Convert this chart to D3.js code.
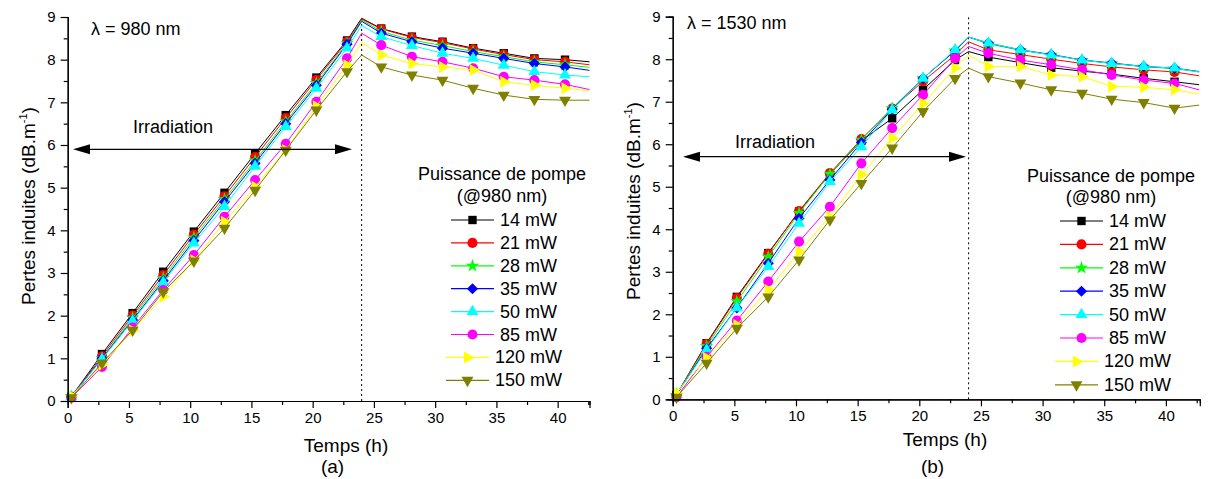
<!DOCTYPE html>
<html><head><meta charset="utf-8">
<script src="https://cdn.jsdelivr.net/npm/d3@7"></script>
<style>
body{margin:0;background:#fff;}
svg{display:block;font-family:"Liberation Sans",Arial,sans-serif;}
</style></head>
<body><svg id="c" width="1211" height="479"></svg>
<script>
// ---------- data ----------
const seriesNames = ["14 mW","21 mW","28 mW","35 mW","50 mW","85 mW","120 mW","150 mW"];
const seriesColors = ["#000000","#ff0000","#00ff00","#0000ff","#00ffff","#ff00ff","#ffff00","#808000"];
const seriesMarkers = ["square","circle","star","diamond","triUp","circle","triRight","triDown"];
const xTicks = [0,5,10,15,20,25,30,35,40];
const yTicks = [0,1,2,3,4,5,6,7,8,9];
const legendTitle = ["Puissance de pompe","(@980 nm)"];

// panel (a) : lambda = 980 nm
const timesA = [0.3,2.8,5.3,7.8,10.3,12.8,15.3,17.8,20.3,22.8,24.0,25.6,28.1,30.6,33.1,35.6,38.1,40.6,42.6];
const a14  = [0.10,1.10,2.06,3.03,3.97,4.88,5.80,6.70,7.58,8.45,8.97,8.73,8.54,8.42,8.27,8.15,8.03,8.00,7.95];
const a21  = [0.10,1.05,2.00,2.95,3.90,4.80,5.72,6.63,7.53,8.42,8.95,8.72,8.52,8.40,8.25,8.12,8.00,7.95,7.88];
const a28  = [0.10,1.00,1.95,2.88,3.83,4.73,5.63,6.55,7.45,8.38,8.93,8.66,8.46,8.33,8.19,8.07,7.95,7.88,7.82];
const a35  = [0.10,1.00,1.90,2.82,3.76,4.67,5.57,6.50,7.40,8.36,8.90,8.62,8.42,8.27,8.15,8.03,7.91,7.83,7.75];
const a50  = [0.10,0.98,1.88,2.78,3.70,4.56,5.50,6.43,7.33,8.27,8.80,8.54,8.33,8.15,8.03,7.87,7.72,7.64,7.60];
const a85  = [0.08,0.80,1.72,2.60,3.42,4.32,5.18,6.03,7.01,8.03,8.62,8.34,8.07,7.95,7.80,7.60,7.52,7.42,7.30];
const a120 = [0.12,0.85,1.65,2.45,3.30,4.20,5.02,5.88,6.91,7.87,8.40,8.11,7.91,7.83,7.76,7.48,7.40,7.33,7.27];
const a150 = [0.08,0.89,1.66,2.56,3.28,4.05,4.94,5.88,6.82,7.72,8.11,7.83,7.64,7.52,7.33,7.17,7.07,7.05,7.05];

// panel (b) : lambda = 1530 nm
const timesB = [0.3,2.75,5.2,7.75,10.25,12.75,15.3,17.8,20.3,22.9,24.0,25.6,28.2,30.7,33.2,35.6,38.2,40.7,42.7];
const b14  = [0.10,1.32,2.41,3.44,4.42,5.30,6.08,6.61,7.28,7.98,8.18,8.05,7.92,7.80,7.72,7.65,7.55,7.47,7.40];
const b21  = [0.10,1.30,2.38,3.42,4.43,5.32,6.12,6.84,7.48,8.10,8.41,8.22,8.11,8.00,7.90,7.82,7.75,7.70,7.61];
const b28  = [0.10,1.25,2.30,3.35,4.38,5.30,6.10,6.85,7.55,8.20,8.52,8.36,8.21,8.10,7.98,7.90,7.82,7.78,7.70];
const b35  = [0.10,1.20,2.15,3.20,4.26,5.16,6.04,6.82,7.55,8.20,8.52,8.38,8.22,8.11,7.98,7.91,7.83,7.79,7.71];
const b50  = [0.12,1.16,2.15,3.12,4.14,5.12,5.94,6.81,7.55,8.22,8.52,8.38,8.22,8.10,7.98,7.90,7.83,7.79,7.70];
const b85  = [0.05,1.00,1.85,2.77,3.71,4.53,5.55,6.38,7.16,8.02,8.30,8.14,7.98,7.87,7.75,7.63,7.51,7.43,7.28];
const b120 = [0.15,0.97,1.75,2.57,3.47,4.30,5.28,6.14,6.96,7.79,8.10,7.83,7.83,7.63,7.59,7.36,7.34,7.28,7.18];
const b150 = [0.05,0.85,1.67,2.41,3.28,4.22,5.08,5.91,6.77,7.55,7.79,7.59,7.44,7.28,7.20,7.06,6.98,6.85,6.92];

// points without a marker (irradiation end and last sample)
const noMarkerIdx = [10,18];

// ---------- drawing ----------
const svg = d3.select("#c");

const shapeGen = {
  square:  {t:d3.symbolSquare, s:70, r:0},
  circle:  {t:d3.symbolCircle, s:80, r:0},
  star:    {t:d3.symbolStar, s:55, r:0},
  diamond: {t:d3.symbolSquare, s:62, r:45},
  triUp:   {t:d3.symbolTriangle, s:62, r:0},
  triRight:{t:d3.symbolTriangle, s:62, r:90},
  triDown: {t:d3.symbolTriangle, s:62, r:180}
};
function marker(g, kind, color, x, y){
  const m = shapeGen[kind];
  g.append("path").attr("d", d3.symbol().type(m.t).size(m.s)())
   .attr("transform", `translate(${x},${y}) rotate(${m.r})`)
   .attr("fill", color).attr("stroke","none");
}

function panel(cfg){
  const x = d3.scaleLinear().domain([0,cfg.xmax]).range([cfg.x0,cfg.x1]);
  const y = d3.scaleLinear().domain([0,9]).range([cfg.y0,cfg.y1]);
  const g = svg.append("g");

  // dotted line at end of irradiation
  g.append("line").attr("x1",x(24)).attr("x2",x(24)).attr("y1",y(0)).attr("y2",y(9))
   .attr("stroke","#000").attr("stroke-width",1).attr("stroke-dasharray","2,3");

  // series
  cfg.series.forEach((vals,i)=>{
    const pts = cfg.times.map((t,k)=>[t,vals[k]]);
    g.append("path").datum(pts)
     .attr("d", d3.line().x(d=>x(d[0])).y(d=>y(d[1])))
     .attr("fill","none").attr("stroke",seriesColors[i]).attr("stroke-width",1);
    pts.forEach((p,k)=>{
      if(noMarkerIdx.includes(k)) return;
      marker(g, seriesMarkers[i], seriesColors[i], x(p[0]), y(p[1]));
    });
  });

  // axes
  const xAx = d3.axisBottom(x).tickValues(xTicks).tickSize(7).tickPadding(4).tickFormat(d3.format("d"));
  const xMinor = d3.axisBottom(x).tickValues(d3.range(2.5,cfg.xmax,5)).tickSize(4).tickFormat("");
  const yAx = d3.axisLeft(y).tickValues(yTicks).tickSize(7).tickPadding(5).tickFormat(d3.format("d"));
  const yMinor = d3.axisLeft(y).tickValues(d3.range(0.5,9,1)).tickSize(4).tickFormat("");
  [[xAx,`translate(0,${cfg.y0})`],[xMinor,`translate(0,${cfg.y0})`],[yAx,`translate(${cfg.x0},0)`],[yMinor,`translate(${cfg.x0},0)`]]
  .forEach(([ax,tr])=>{
    const a = g.append("g").attr("transform",tr).call(ax);
    a.select(".domain").attr("stroke","#000").attr("stroke-width",1.2);
    a.selectAll(".tick line").attr("stroke","#000").attr("stroke-width",1.2);
    a.selectAll("text").attr("font-size",15).attr("fill","#000").style("font-family","Liberation Sans, Arial, sans-serif");
  });

  // axis titles
  g.append("text").attr("x",cfg.xtX).attr("y",cfg.xtY).attr("text-anchor","middle")
   .attr("font-size",19).text("Temps (h)");
  g.append("text").attr("x",cfg.subX).attr("y",473).attr("text-anchor","middle")
   .attr("font-size",19).text(cfg.sub);
  const yt = g.append("text").attr("transform",`translate(${cfg.ytX},${cfg.ytY}) rotate(-90)`)
   .attr("text-anchor","middle").attr("font-size",19);
  yt.append("tspan").text("Pertes induites (dB.m");
  yt.append("tspan").attr("font-size",11).attr("dy",-8).text("-1");
  yt.append("tspan").attr("dy",8).text(")");

  // lambda label
  g.append("text").attr("x",cfg.lamX).attr("y",cfg.lamY).attr("font-size",18).text(cfg.lam);

  // irradiation arrow
  g.append("text").attr("x",cfg.irX).attr("y",cfg.irY).attr("text-anchor","middle")
   .attr("font-size",18).text("Irradiation");
  const ay = cfg.arY, ax0 = cfg.arX0, ax1 = cfg.arX1;
  g.append("line").attr("x1",ax0+10).attr("x2",ax1-10).attr("y1",ay).attr("y2",ay)
   .attr("stroke","#000").attr("stroke-width",1.2);
  g.append("path").attr("d",`M${ax0},${ay} L${ax0+17},${ay-5} L${ax0+17},${ay+5} Z`).attr("fill","#000");
  g.append("path").attr("d",`M${ax1},${ay} L${ax1-17},${ay-5} L${ax1-17},${ay+5} Z`).attr("fill","#000");

  // legend
  const lg = g.append("g");
  legendTitle.forEach((t,i)=>{
    lg.append("text").attr("x",cfg.lgC).attr("y",cfg.lgT[i]).attr("text-anchor","middle")
      .attr("font-size",18).text(t);
  });
  seriesNames.forEach((n,i)=>{
    const cy = cfg.lgY0 + i*cfg.lgDy;
    const tx = lg.append("text").attr("y",cy+6).attr("font-size",18).text(n);
    const tw = tx.node().getComputedTextLength();
    const total = 43 + 6 + tw;
    const sx = cfg.lgC - total/2 + 2;
    tx.attr("x", sx+49);
    lg.append("line").attr("x1",sx).attr("x2",sx+43).attr("y1",cy).attr("y2",cy)
      .attr("stroke",seriesColors[i]).attr("stroke-width",1.2);
    marker(lg, seriesMarkers[i], seriesColors[i], sx+21.5, cy);
  });
}

panel({xmax:42.6, x0:67.7, x1:589.5, y0:401, y1:17,
  times:timesA, series:[a14,a21,a28,a35,a50,a85,a120,a150],
  xtX:346, xtY:452, sub:"(a)", subX:332.5, ytX:35, ytY:206,
  lam:"\u03bb = 980 nm", lamX:91, lamY:35,
  irX:173, irY:132.5, arY:149.3, arX0:73, arX1:352,
  lgC:502, lgT:[180,202], lgY0:220, lgDy:22.9});

panel({xmax:42.75, x0:672.7, x1:1199.8, y0:399.3, y1:16.7,
  times:timesB, series:[b14,b21,b28,b35,b50,b85,b120,b150],
  xtX:945, xtY:446, sub:"(b)", subX:932.5, ytX:640, ytY:201,
  lam:"\u03bb = 1530 nm", lamX:687, lamY:29,
  irX:775, irY:148, arY:156.7, arX0:683, arX1:966,
  lgC:1111, lgT:[182,203], lgY0:221, lgDy:23.4});
</script></body></html>
